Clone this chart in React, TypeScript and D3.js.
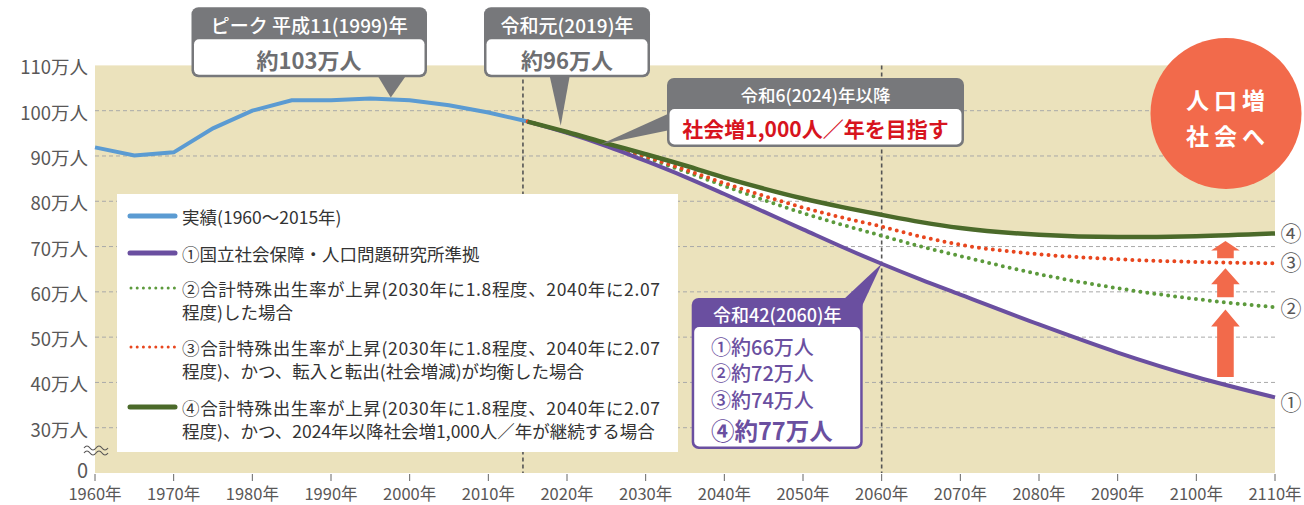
import * as d3 from 'd3'

const actualYears = [1960, 1965, 1970, 1975, 1980, 1985, 1990, 1995, 2000, 2005, 2010, 2015]
const actualValues = [91.9, 90.1, 90.8, 96.1, 100.0, 102.3, 102.3, 102.7, 102.3, 101.2, 99.6, 97.6]

const projYears = [2015, 2020, 2025, 2030, 2035, 2040, 2045, 2050, 2055, 2060, 2065, 2070, 2080, 2090, 2100, 2110]
const series1 = [97.6, 95.1, 92.2, 88.9, 85.4, 81.6, 77.7, 73.8, 69.9, 66.2, 62.7, 59.4, 52.8, 46.6, 41.2, 36.7]
const series2 = [97.6, 95.2, 92.5, 89.6, 86.6, 83.4, 80.3, 77.4, 74.8, 72.4, 70.0, 67.9, 63.9, 60.8, 58.4, 56.6]
const series3 = [97.6, 95.2, 92.6, 89.9, 87.0, 84.0, 81.2, 78.6, 76.4, 74.4, 72.2, 70.4, 68.3, 67.2, 66.6, 66.3]
const series4 = [97.6, 95.3, 92.8, 90.4, 87.9, 85.2, 82.8, 80.6, 78.7, 77.0, 75.4, 74.1, 72.6, 72.1, 72.3, 72.9]

const xTicks = d3.range(1960, 2111, 10)
const yTicks = [20, 30, 40, 50, 60, 70, 80, 90, 100, 110]
const yTickLabels = ['0', '30万人', '40万人', '50万人', '60万人', '70万人', '80万人', '90万人', '100万人', '110万人']

const endLabels = ['①', '②', '③', '④']
const legendItems = [
  ['実績(1960〜2015年)'],
  ['①国立社会保障・人口問題研究所準拠'],
  ['②合計特殊出生率が上昇(2030年に1.8程度、2040年に2.07', '程度)した場合'],
  ['③合計特殊出生率が上昇(2030年に1.8程度、2040年に2.07', '程度)、かつ、転入と転出(社会増減)が均衡した場合'],
  ['④合計特殊出生率が上昇(2030年に1.8程度、2040年に2.07', '程度)、かつ、2024年以降社会増1,000人／年が継続する場合'],
]
const box2060 = ['①約66万人', '②約72万人', '③約74万人', '④約77万人']
// arrows at ~2104: [from, to] in 万人
const arrows = [[41.2, 56.1], [58.8, 65.2], [67.4, 71.2]]

const W = 1304
const H = 505
const FONT = '"Noto Sans CJK JP", "Noto Sans", sans-serif'
const GRAY = '#77787b'
const TXT = '#595757'
const C_BLUE = '#5b9bd2'
const C_PURPLE = '#6a4fa0'
const C_GREEN = '#4b6a2a'
const C_GREEN_DOT = '#5c9a3c'
const C_RED = '#e8461e'
const C_ORANGE = '#f26a4b'

const x = d3.scaleLinear().domain([1960, 2110]).range([95, 1275])
const y = d3.scaleLinear().domain([20, 110]).range([473, 65.4])

const Callout = ({ bx, by, w, h, hh, color, head, headSize, children, pointer }: any) => (
  <g>
    <path d={pointer} fill={color} />
    <rect x={bx} y={by} width={w} height={h} rx={7} fill={color} />
    <rect x={bx + 2.5} y={by + hh} width={w - 5} height={h - hh - 2.5} rx={5} fill="#fff" />
    <text x={bx + w / 2} y={by + hh / 2 + 1} textAnchor="middle" dominantBaseline="central"
      fill="#fff" fontSize={headSize} fontWeight={500}>{head}</text>
    {children}
  </g>
)

export default function App() {
  const proj = projYears.map((yr, i) => ({ yr, s1: series1[i], s2: series2[i], s3: series3[i], s4: series4[i] }))
  const lineOf = (key: string) => d3.line<any>().x(d => x(d.yr)).y(d => y(d[key])).curve(d3.curveMonotoneX)(proj) || ''
  const actualLine = d3.line<number>().x((_, i) => x(actualYears[i])).y(d => y(d))(actualValues) || ''
  const band = d3.area<any>().x(d => x(d.yr)).y0(d => y(d.s1)).y1(d => y(d.s4)).curve(d3.curveMonotoneX)(proj) || ''
  const ends = [series1, series2, series3, series4].map(s => s[s.length - 1])
  const endOffset = [4, 0, -2, -1]
  const ax = x(2103.7)

  const peakX = x(1997.6)
  const reiwaX = x(2019.2)
  const p2060x = x(2060)
  const divider = x(2014.4)
  const wave = (cy: number) => `M84,${cy} q3,-4 6,0 t6,0 t6,0 t6,0`

  return (
    <svg width={W} height={H} style={{ position: 'absolute', left: 0, top: 0, fontFamily: FONT }}>
      <rect x={0} y={0} width={W} height={H} fill="#fff" />
      <rect x={x(1960)} y={y(110)} width={x(2110) - x(1960)} height={y(20) - y(110)} fill="#ebe2bc" />
      <path d={band} fill="#fff" />

      {yTicks.slice(1, -1).map(t => (
        <line key={t} x1={x(1960)} x2={x(2110)} y1={y(t)} y2={y(t)} stroke="#a9a9a9" strokeWidth={1} strokeDasharray="4 3" />
      ))}
      {yTicks.map((t, i) => (
        <text key={t} x={88} y={i === 0 ? y(t) - 4 : y(t) + 1} textAnchor="end" dominantBaseline="central"
          fontSize={i === 0 ? 20 : 18.5} fill={TXT}>{yTickLabels[i]}</text>
      ))}
      <path d={wave(448)} fill="none" stroke={TXT} strokeWidth={1.2} />
      <path d={wave(453)} fill="none" stroke={TXT} strokeWidth={1.2} />

      {xTicks.map(t => (
        <g key={t}>
          <line x1={x(t)} x2={x(t)} y1={474} y2={481} stroke="#666" strokeWidth={1} />
          <text x={x(t)} y={493} textAnchor="middle" dominantBaseline="central" fontSize={16.5} fill={TXT}>{t}年</text>
        </g>
      ))}

      {[divider, p2060x].map((px, i) => (
        <line key={i} x1={px} x2={px} y1={y(110)} y2={y(20)} stroke="#555" strokeWidth={1.6} strokeDasharray="4 3" />
      ))}

      <rect x={117} y={194} width={561} height={258} fill="#fff" />
      {legendItems.map((lines, i) => {
        const rowY = [216, 253, 288, 347, 407][i]
        const col = [C_BLUE, C_PURPLE, C_GREEN_DOT, C_RED, C_GREEN][i]
        const dotted = i === 2 || i === 3
        return (
          <g key={i}>
            <line x1={dotted ? 131 : 130} x2={175} y1={rowY} y2={rowY} stroke={col}
              strokeWidth={dotted ? 3 : 5} strokeDasharray={dotted ? '0 6.2' : undefined} strokeLinecap="round" />
            {lines.map((s, j) => (
              <text key={j} x={182} y={rowY + j * 23} dominantBaseline="central" fontSize={17.5} fill="#333"
                textLength={j === 0 && s.length > 30 ? 478 : undefined}>{s}</text>
            ))}
          </g>
        )
      })}

      <path d={actualLine} fill="none" stroke={C_BLUE} strokeWidth={4} />
      <path d={lineOf('s2')} fill="none" stroke={C_GREEN_DOT} strokeWidth={4} strokeDasharray="0 7" strokeLinecap="round" />
      <path d={lineOf('s3')} fill="none" stroke={C_RED} strokeWidth={4} strokeDasharray="0 7" strokeLinecap="round" />
      <path d={lineOf('s1')} fill="none" stroke={C_PURPLE} strokeWidth={4} />
      <path d={lineOf('s4')} fill="none" stroke={C_GREEN} strokeWidth={4.5} />

      {ends.map((v, i) => (
        <text key={i} x={1291} y={y(v) + endOffset[i]} textAnchor="middle" dominantBaseline="central"
          fontSize={21} fill={TXT}>{endLabels[i]}</text>
      ))}

      {arrows.map(([a, b], i) => {
        const yb = y(a), yt = y(b)
        const hl = Math.min(17, (yb - yt) * 0.55)
        return (
          <path key={i} fill={C_ORANGE}
            d={`M${ax - 8.3},${yb} L${ax - 8.3},${yt + hl} L${ax - 14.3},${yt + hl} L${ax},${yt} L${ax + 14.3},${yt + hl} L${ax + 8.3},${yt + hl} L${ax + 8.3},${yb} Z`} />
        )
      })}

      <circle cx={1226} cy={113.5} r={75.5} fill={C_ORANGE} />
      <text x={1228} y={99} textAnchor="middle" dominantBaseline="central" fill="#fff" fontSize={23} fontWeight={700} letterSpacing={5}>人口増</text>
      <text x={1228} y={135} textAnchor="middle" dominantBaseline="central" fill="#fff" fontSize={23} fontWeight={700} letterSpacing={5}>社会へ</text>

      <Callout bx={191.5} by={7.3} w={235.5} h={70} hh={32} color={GRAY} head="ピーク 平成11(1999)年" headSize={19}
        pointer={`M${peakX - 13},76 L${peakX + 15},76 L${peakX},${y(102.9)} Z`}>
        <text x={309} y={59} textAnchor="middle" dominantBaseline="central" fill="#6d6e71" fontSize={22} fontWeight={700}>約103万人</text>
      </Callout>

      <Callout bx={484} by={7.3} w={166} h={70} hh={32} color={GRAY} head="令和元(2019)年" headSize={19}
        pointer={`M${reiwaX - 11},76 L${reiwaX + 9},76 L${reiwaX},${y(96.7)} Z`}>
        <text x={567} y={59} textAnchor="middle" dominantBaseline="central" fill="#6d6e71" fontSize={22} fontWeight={700}>約96万人</text>
      </Callout>

      <Callout bx={667} by={78} w={297} h={69} hh={31} color={GRAY} head="令和6(2024)年以降" headSize={17.5}
        pointer={`M670,113 L670,130 L${x(2024.3)},${y(92.6)} Z`}>
        <text x={815.5} y={128} textAnchor="middle" dominantBaseline="central" fill="#d7141e" fontSize={21} fontWeight={700}>社会増1,000人／年を目指す</text>
      </Callout>

      <Callout bx={691.7} by={298} w={171} h={151} hh={29} color={C_PURPLE} head="令和42(2060)年" headSize={18}
        pointer={`M843,300 L862,306 L${p2060x},${y(66.2)} Z`}>
        {box2060.map((s, i) => (
          <text key={i} x={711} y={[346, 372.5, 399, 430][i]} dominantBaseline="central" fill={C_PURPLE}
            fontSize={i === 3 ? 23.5 : 20} fontWeight={i === 3 ? 700 : 500}>{s}</text>
        ))}
      </Callout>
    </svg>
  )
}
